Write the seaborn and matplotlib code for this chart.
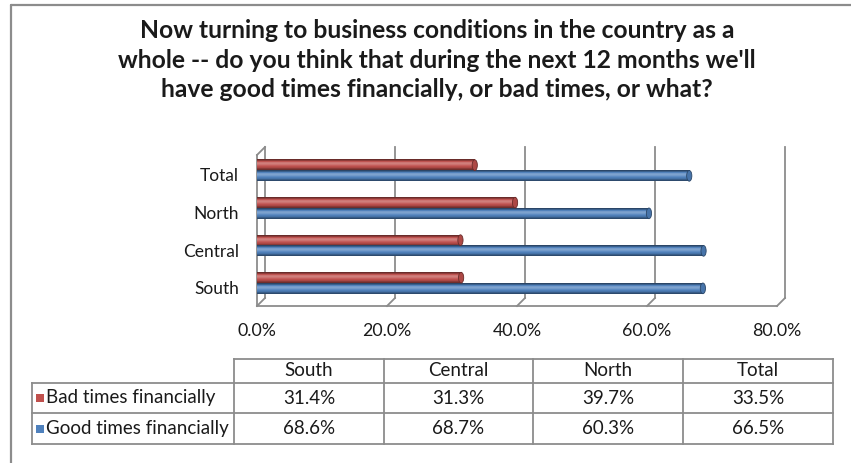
import numpy as np
import pandas as pd
import matplotlib
matplotlib.use("Agg")
import matplotlib.pyplot as plt
import matplotlib.transforms as mtransforms
from matplotlib.lines import Line2D
from matplotlib.patches import Ellipse, Rectangle
from matplotlib.colors import to_rgb
import seaborn as sns

# Survey results by region (percent of respondents)
regions = ["South", "Central", "North", "Total"]
bad_times = [31.4, 31.3, 39.7, 33.5]
good_times = [68.6, 68.7, 60.3, 66.5]
series_names = ["Bad times financially", "Good times financially"]
series_colors = ["#C0504D", "#4F81BD"]
x_ticks = [0, 20, 40, 60, 80]
title = ("Now turning to business conditions in the country as a\n"
         "whole -- do you think that during the next 12 months we'll\n"
         "have good times financially, or bad times, or what?")

df = pd.DataFrame({
    "region": regions * 2,
    "series": [series_names[0]] * len(regions) + [series_names[1]] * len(regions),
    "pct": bad_times + good_times,
})

sns.set_theme(style="white")
plt.rcParams["font.family"] = ["Lato", "DejaVu Sans"]

W, H, DPI = 851, 463, 100
fig = plt.figure(figsize=(W / DPI, H / DPI), dpi=DPI)
fig.patch.set_facecolor("white")

FRAME = "#8c8c8c"
TXT = "#1a1a1a"


def px_rect(l, t, r, b):
    return [l / W, 1 - b / H, (r - l) / W, (b - t) / H]


def shade(c, f):
    c = np.array(to_rgb(c))
    if f >= 0:
        return c + (1 - c) * f
    return c * (1 + f)


# ---- bar chart (front plane of the 3-D box) ----
ax = fig.add_axes(px_rect(257, 155, 777, 306))
sns.barplot(data=df, y="region", x="pct", hue="series",
            order=regions[::-1], hue_order=series_names,
            palette=series_colors, saturation=1, width=0.57,
            orient="h", ax=ax, legend=False)

# cylinder shading on each bar
profile = [-0.45, -0.02, 0.30, 0.20, 0.02, -0.12, -0.42]
for p in list(ax.patches):
    x0, y0, w, h = p.get_x(), p.get_y(), p.get_width(), p.get_height()
    if w <= 0:
        continue
    base = p.get_facecolor()[:3]
    p.set_edgecolor("none")
    img = np.array([shade(base, f) for f in profile])[:, None, :]
    ax.imshow(img, extent=(x0, x0 + w, y0 + h, y0), origin="upper",
              aspect="auto", interpolation="bilinear", zorder=p.get_zorder() + 0.1)
    ax.add_patch(Ellipse((x0 + w, y0 + h / 2), width=0.8, height=h,
                         facecolor=shade(base, -0.1), edgecolor=shade(base, -0.45),
                         lw=0.6, zorder=p.get_zorder() + 0.2))

ax.set_xlim(0, 80)
ax.set_ylim(3.613, -0.413)
ax.set_xticks(x_ticks)
ax.set_xticklabels([f"{t:.1f}%" for t in x_ticks])
ax.set_xlabel("")
ax.set_ylabel("")
ax.tick_params(axis="x", length=0, pad=12, labelsize=12.8, colors=TXT)
ax.tick_params(axis="y", length=0, pad=13, labelsize=12.5, colors=TXT)
for s in ax.spines.values():
    s.set_visible(False)
ax.patch.set_visible(False)

down = mtransforms.ScaledTranslation(0, -4.5 / DPI, fig.dpi_scale_trans)
for lbl in ax.get_yticklabels():
    lbl.set_transform(lbl.get_transform() + down)

# ---- 3-D box frame: back wall, left wall, floor ----
depth = 8
fig.canvas.draw()
ident = mtransforms.IdentityTransform()


def front(fx, fy):
    return ax.transAxes.transform((fx, fy))


def back(fx, fy):
    return ax.transAxes.transform((fx, fy)) + depth


def seg(p, q, z=0.5):
    ax.add_line(Line2D([p[0], q[0]], [p[1], q[1]], transform=ident,
                       color=FRAME, lw=1.3, clip_on=False, zorder=z,
                       solid_capstyle="projecting"))


for t in x_ticks:
    f = t / 80
    seg(back(f, 0), back(f, 1))          # back-wall gridline
    seg(front(f, 0), back(f, 0))         # floor gridline
seg(front(0, 0), front(0, 1))            # left wall front edge
seg(front(0, 1), back(0, 1))             # left wall top edge
seg(front(0, 0), front(1, 0))            # floor front edge

# ---- outer chart border ----
fig.add_artist(Line2D([11 / W, 11 / W], [0, 1 - 5 / H], color=FRAME, lw=1.6))
fig.add_artist(Line2D([11 / W, 1], [1 - 5 / H, 1 - 5 / H], color=FRAME, lw=1.6))

# ---- title ----
fig.text(437 / W, 1 - 60 / H, title, ha="center", va="center",
         fontsize=17.7, fontweight="bold", color=TXT, linespacing=1.36)

# ---- data table ----
tax = fig.add_axes(px_rect(32, 359, 833, 444))
tax.set_xlim(32, 833)
tax.set_ylim(444, 359)
tax.axis("off")
col_edges = [32, 234, 384, 533, 683, 833]
row_edges = [359, 383, 413, 444]


def tline(xs, ys):
    tax.add_line(Line2D(xs, ys, color=FRAME, lw=1.3, clip_on=False,
                        solid_capstyle="projecting"))


tline([col_edges[1], col_edges[-1]], [row_edges[0], row_edges[0]])
for y in row_edges[1:]:
    tline([col_edges[0], col_edges[-1]], [y, y])
tline([col_edges[0], col_edges[0]], [row_edges[1], row_edges[-1]])
for x in col_edges[1:]:
    tline([x, x], [row_edges[0], row_edges[-1]])

TFS = 13.5
for j, name in enumerate(regions):
    cx = (col_edges[j + 1] + col_edges[j + 2]) / 2
    cy = (row_edges[0] + row_edges[1]) / 2
    tax.text(cx, cy, name, ha="center", va="center", fontsize=TFS, color=TXT)

for i, (name, color, vals) in enumerate(zip(series_names, series_colors,
                                             [bad_times, good_times])):
    cy = (row_edges[i + 1] + row_edges[i + 2]) / 2
    tax.add_patch(Rectangle((36, cy - 4), 8, 8, facecolor=color,
                            edgecolor="none", clip_on=False))
    tax.text(46, cy, name, ha="left", va="center", fontsize=TFS, color=TXT)
    for j, v in enumerate(vals):
        cx = (col_edges[j + 1] + col_edges[j + 2]) / 2
        tax.text(cx, cy, f"{v:.1f}%", ha="center", va="center",
                 fontsize=TFS, color=TXT)

fig.savefig("out.png", dpi=DPI, facecolor="white")
